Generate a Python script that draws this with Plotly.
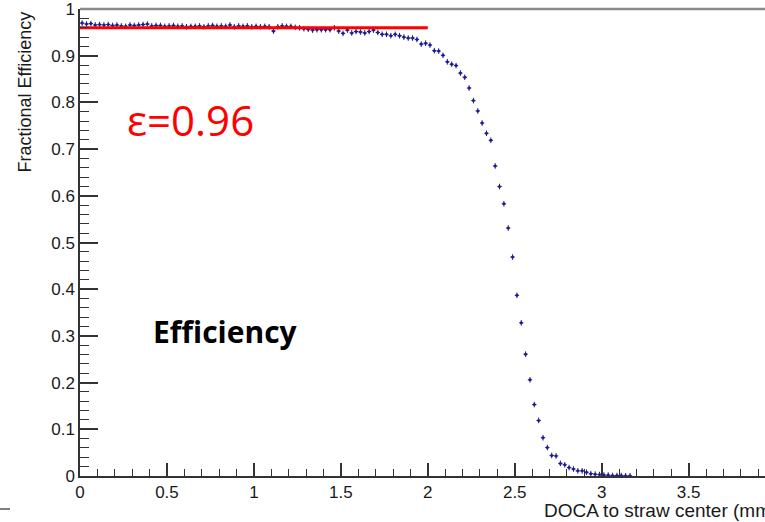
import numpy as np
import plotly.graph_objects as go

# ---- data ----
bin_width = 0.025
efficiency = [
    0.970, 0.968, 0.969, 0.966, 0.967, 0.966, 0.967, 0.965, 0.966, 0.964,
    0.963, 0.966, 0.965, 0.966, 0.967, 0.968, 0.964, 0.965, 0.965, 0.963,
    0.964, 0.965, 0.963, 0.964, 0.962, 0.963, 0.963, 0.964, 0.962, 0.964,
    0.965, 0.963, 0.964, 0.963, 0.966, 0.962, 0.964, 0.963, 0.964, 0.962,
    0.963, 0.962, 0.963, 0.962, 0.953, 0.962, 0.964, 0.963,
    0.963, 0.961, 0.960, 0.958, 0.957, 0.955, 0.956, 0.956, 0.956, 0.956,
    0.960, 0.953, 0.948, 0.955, 0.949, 0.952, 0.951, 0.949, 0.952, 0.955,
    0.950, 0.946, 0.946, 0.943, 0.946, 0.943, 0.940, 0.938, 0.938, 0.935,
    0.925, 0.927, 0.923, 0.911, 0.910, 0.901, 0.887, 0.882, 0.879, 0.863,
    0.854, 0.831, 0.804, 0.782, 0.756, 0.734, 0.719, 0.664, 0.620, 0.583,
    0.531, 0.469, 0.387, 0.328, 0.261, 0.206, 0.153, 0.119, 0.082, 0.061,
    0.044, 0.043, 0.027, 0.024, 0.018, 0.015, 0.011, 0.011, 0.008, 0.005,
    0.004, 0.003, 0.002, 0.002, 0.001, 0.001, 0.001, 0.0005, 0.0005,
]
bin_centers = (np.arange(len(efficiency)) + 0.5) * bin_width
eff_error = 0.006

fit_value = 0.96
fit_range = [0.0, 2.0]

y_tick_vals = [0, 0.1, 0.2, 0.3, 0.4, 0.5, 0.6, 0.7, 0.8, 0.9, 1]
y_tick_text = ["0", "0.1", "0.2", "0.3", "0.4", "0.5", "0.6", "0.7", "0.8", "0.9", "1"]

x_title = "DOCA to straw center (mm)"
y_title = "Fractional Efficiency"
eps_label = "ε=0.96"
eff_label = "Efficiency"

# ---- figure ----
W, H = 765, 522
L, R, T, B = 80, 0, 9, 46
pw, ph = W - L - R, H - T - B

def px2x(px):
    return (px - L) / pw

def py2y(py):
    return (H - B - py) / ph

navy = "#1c1c8a"
axis_col = "#333333"
tick_font = dict(family="Liberation Sans, Arial, sans-serif", size=17, color="#1a1a1a")

fig = go.Figure()
fig.add_trace(go.Scatter(
    x=bin_centers, y=efficiency, mode="markers",
    marker=dict(color=navy, size=3),
    error_x=dict(type="constant", value=bin_width / 2, color=navy, thickness=1, width=0),
    error_y=dict(type="constant", value=eff_error, color=navy, thickness=1, width=0),
    showlegend=False,
))
fig.add_trace(go.Scatter(
    x=fit_range, y=[fit_value, fit_value], mode="lines",
    line=dict(color="#ff0000", width=3), showlegend=False,
))

fig.update_layout(
    width=W, height=H,
    margin=dict(l=L, r=R, t=T, b=B),
    paper_bgcolor="white", plot_bgcolor="white",
    xaxis=dict(
        range=[0, pw / 173.9], showgrid=False, zeroline=False,
        showline=True, linecolor=axis_col, linewidth=1.5,
        ticks="inside", ticklen=13, tickwidth=1.5, tickcolor=axis_col,
        tick0=0, dtick=0.5, tickfont=tick_font,
        minor=dict(ticks="inside", ticklen=7, dtick=0.1, tickwidth=1, tickcolor=axis_col),
    ),
    yaxis=dict(
        range=[0, 1.0002], showgrid=False, zeroline=False,
        showline=True, linecolor=axis_col, linewidth=1.5,
        ticks="inside", ticklen=18, tickwidth=1.5, tickcolor=axis_col,
        tickmode="array", tickvals=y_tick_vals, ticktext=y_tick_text, tickfont=tick_font,
        minor=dict(ticks="inside", ticklen=9, tick0=0, dtick=0.02, tickwidth=1, tickcolor=axis_col),
    ),
    shapes=[
        dict(type="line", xref="paper", yref="paper", x0=0, x1=1, y0=1, y1=1,
             line=dict(color="#8a8a8a", width=2.5)),
        dict(type="line", xref="paper", yref="paper", x0=px2x(0), x1=px2x(10),
             y0=py2y(509), y1=py2y(509), line=dict(color="#555555", width=1.5)),
    ],
    annotations=[
        dict(text=x_title, xref="paper", yref="paper", x=px2x(542), y=py2y(511),
             xanchor="left", yanchor="middle", showarrow=False,
             font=dict(family="Liberation Sans, Arial, sans-serif", size=19, color="#1a1a1a")),
        dict(text=y_title, xref="paper", yref="paper", x=px2x(24.5), y=py2y(92),
             xanchor="center", yanchor="middle", textangle=-90, showarrow=False,
             font=dict(family="Liberation Sans, Arial, sans-serif", size=18, color="#1a1a1a")),
        dict(text=eps_label, xref="paper", yref="paper", x=px2x(125), y=py2y(119),
             xanchor="left", yanchor="middle", showarrow=False,
             font=dict(family="Open Sans, sans-serif", size=42, color="#ff0000")),
        dict(text="<b>" + eff_label + "</b>", xref="paper", yref="paper", x=px2x(151), y=py2y(331),
             xanchor="left", yanchor="middle", showarrow=False,
             font=dict(family="Open Sans, sans-serif", size=30, color="#000000")),
    ],
)

fig.write_html("out.html")
